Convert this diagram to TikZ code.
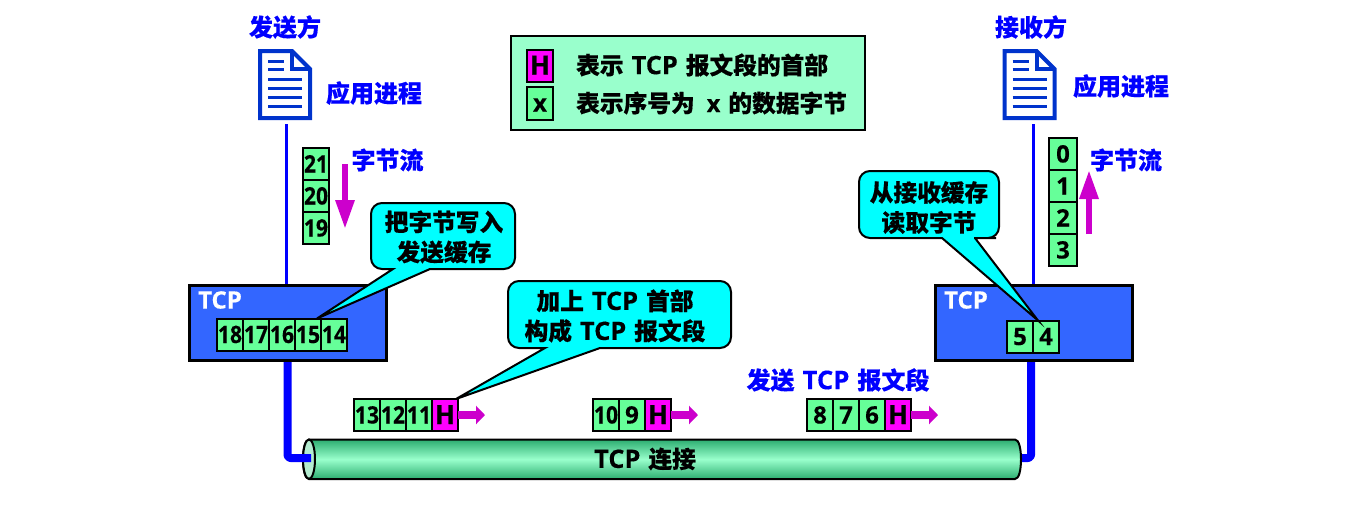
\documentclass[tikz,border=0pt]{standalone}
\usepackage{fontspec}
\usepackage{graphicx}
\setmainfont{Open Sans}[BoldFont=Open Sans Bold,BoldFeatures={FakeBold=0.3}]
\newfontfamily\zhfont{Noto Sans CJK SC Bold}[FakeBold=0.4]
\usetikzlibrary{positioning,arrows.meta,calc,shapes.geometric}
\newcommand\zh[1]{{\zhfont #1}}
\newcommand\gp{\hspace{8pt}}
\newcommand\tw[1]{\makebox[0pt]{\scalebox{0.88}[1]{#1}}}
\newcommand\tcpword{\scalebox{1.07}{TCP}}
\newcommand\hword{\raisebox{-0.5pt}{\scalebox{1.1}{H}}}
\definecolor{cellgreen}{HTML}{66FF99}
\definecolor{legendgreen}{HTML}{99FFCC}
\definecolor{hpink}{HTML}{FF00FF}
\definecolor{calloutcyan}{HTML}{00FFFF}
\definecolor{tcpblue}{HTML}{3366FF}
\definecolor{flowpurple}{HTML}{CC00CC}
\definecolor{docblue}{HTML}{0033CC}
\definecolor{cabledark}{HTML}{2CAD70}
\definecolor{cableend}{HTML}{B4ECD0}
\tikzset{
 cellbox/.style={draw=black,line width=2pt,fill=cellgreen,minimum width=26pt,minimum height=32pt,inner sep=0pt,outer sep=0pt,text height=17pt,text depth=0pt,font=\fontsize{24}{24}\selectfont\bfseries},
 wcell/.style={cellbox},
 hcell/.style={cellbox,fill=hpink},
 bluelabel/.style={text=blue,inner sep=0pt,font=\fontsize{24}{28}\selectfont\bfseries},
 blacklabel/.style={text=black,inner sep=0pt,align=center,font=\fontsize{23.7}{30}\selectfont\bfseries},
 tcpbox/.style={draw=black,line width=3pt,fill=tcpblue,minimum width=197pt,minimum height=75pt,inner sep=0pt,outer sep=0pt},
 tcplabel/.style={text=white,inner sep=0pt,font=\fontsize{24}{24}\selectfont\bfseries},
 callout/.style={draw=black,line width=2pt,fill=calloutcyan,line join=miter},
 thinlink/.style={draw=blue,line width=3pt},
 thicklink/.style={draw=blue,line width=8pt,line join=round,rounded corners=3pt},
 segarrow/.style={draw=flowpurple,line width=8pt,-{Triangle[length=9pt,width=18pt]}},
 flowarrow/.style={draw=flowpurple,line width=6pt,-{Triangle[length=29pt,width=18pt]}},
 docline/.style={draw=docblue,line width=3pt},
 doc/.style={draw=docblue,line width=4pt,fill=white,line join=miter},
 docnode/.style={minimum width=50pt,minimum height=67pt,inner sep=0pt,outer sep=0pt},
}
\newcommand\docicon[1]{%
 \draw[doc] (#1.north west) -- ++(32,0) -- ++(18,18) -- ++(0,49) -- ++(-50,0) -- cycle;
 \draw[doc,fill=none] ($(#1.north west)+(32,0)$) -- ++(0,18) -- ++(18,0);
 \foreach \yy/\xx in {10/24,18/24,28/42,37/42,46/42,55/42}{
  \draw[docline] ($(#1.north west)+(8,\yy)$) -- ++(\xx-8,0);
 }
}
\begin{document}
\begin{tikzpicture}[x=1pt,y=-1pt]
\useasboundingbox (0,0) rectangle (1368,504);
% title labels
\node[bluelabel] (sender) at (285,27) {\zh{发送方}};
\node[bluelabel] (receiver) at (1031,27) {\zh{接收方}};
\node[docnode] (docL) at (285,84.5) {};
\node[docnode] (docR) at (1029.5,84.5) {};
\docicon{docL}
\docicon{docR}
\node[bluelabel] (appL) at (374,93) {\zh{应用进程}};
\node[bluelabel] (appR) at (1121,86) {\zh{应用进程}};
\node[bluelabel] (flowL) at (387.5,160) {\zh{字节流}};
\node[bluelabel] (flowR) at (1126,160) {\zh{字节流}};
% legend
\node[draw=black,line width=2pt,fill=legendgreen,minimum width=354pt,minimum height=94pt,inner sep=0pt] (legend) at (688,83) {};
\node[hcell,minimum height=32pt] (legH) at (540,65.5) {\hword};
\node[wcell,minimum height=33pt] (legX) at (540,103) {x};
\node[blacklabel,anchor=west] (legT1) at (576,65) {\zh{表示}\gp\tcpword\gp\zh{报文段的首部}};
\node[blacklabel,anchor=west] (legT2) at (576,103) {\zh{表示序号为}\hspace{12pt}x\hspace{8pt}\zh{的数据字节}};
% byte stream stacks
\node[wcell] (c21) at (316,164) {\tw{21}};
\node[wcell,below=0pt of c21] (c20) {\tw{20}};
\node[wcell,below=0pt of c20] (c19) {\tw{19}};
\node[wcell,minimum width=28pt] (c0) at (1063,154) {0};
\node[wcell,minimum width=28pt,below=0pt of c0] (c1) {1};
\node[wcell,minimum width=28pt,below=0pt of c1] (c2) {2};
\node[wcell,minimum width=28pt,below=0pt of c2] (c3) {3};
% flow arrows
\coordinate (flowLa) at (345,164);
\coordinate (flowLb) at (345,229);
\coordinate (flowRa) at (1089,234);
\coordinate (flowRb) at (1089,170);
\draw[flowarrow] (flowLa) -- (flowLb);
\draw[flowarrow] (flowRa) -- (flowRb);
% thin links
\coordinate (linkLtop) at (286.5,124);
\coordinate (linkRtop) at (1033,124);
\coordinate (linkLbot) at (286.5,290);
\coordinate (linkRbot) at (1033,290);
\draw[thinlink] (linkLtop) -- (linkLbot);
\draw[thinlink] (linkRtop) -- (linkRbot);
% right thick link, behind the cable
\coordinate (thickRa) at (1031,361);
\coordinate (thickRb) at (1031,458);
\coordinate (thickRc) at (1016,458);
\draw[thicklink] (thickRa) -- (thickRb) -- (thickRc);
% cable
\coordinate (cabA) at (309,439.5);
\coordinate (cabB) at (1015,439.5);
\coordinate (cabC) at (1015,479);
\coordinate (cabD) at (309,479);
\draw[black,line width=2pt,top color=cabledark,bottom color=cabledark,middle color=legendgreen]
 (cabA) -- (cabB) .. controls (1019,439.5) and (1021,449) .. (1021,459) .. controls (1021,470) and (1019,479) .. (cabC) -- (cabD) .. controls (305,479) and (303,470) .. (303,459) .. controls (303,449) and (305,439.5) .. (cabA) -- cycle;
\node[draw=black,line width=2pt,fill=cableend,ellipse,minimum width=12pt,minimum height=39.5pt,inner sep=0pt] (cabEnd) at (309,459.2) {};
\node[blacklabel] (cabLabel) at (645,459) {\tcpword\gp\zh{连接}};
% left thick link
\coordinate (thickLa) at (287.5,361);
\coordinate (thickLb) at (287.5,458);
\coordinate (thickLc) at (311,458);
\draw[thicklink] (thickLa) -- (thickLb) -- (thickLc);
% TCP boxes
\node[tcpbox] (tcpL) at (287.5,323) {};
\node[tcpbox] (tcpR) at (1033.5,323) {};
\node[tcplabel] (tcpLl) at (220,300) {TCP};
\node[tcplabel] (tcpRl) at (966,300) {TCP};
% buffers
\node[wcell] (c18) at (230,334.5) {\tw{18}};
\node[wcell,right=0pt of c18] (c17) {\tw{17}};
\node[wcell,right=0pt of c17] (c16) {\tw{16}};
\node[wcell,right=0pt of c16] (c15) {\tw{15}};
\node[wcell,right=0pt of c15] (c14) {\tw{14}};
\node[wcell] (c5) at (1020,336.5) {5};
\node[wcell,right=0pt of c5] (c4) {4};
% segments
\node[wcell] (c13) at (367,415) {\tw{13}};
\node[wcell,right=0pt of c13] (c12) {\tw{12}};
\node[wcell,right=0pt of c12] (c11) {\tw{11}};
\node[hcell,right=0pt of c11] (h1) {\hword};
\node[wcell] (c10) at (606,415) {\tw{10}};
\node[wcell,right=0pt of c10] (c9) {9};
\node[hcell,right=0pt of c9] (h2) {\hword};
\node[wcell] (c8) at (820,415) {8};
\node[wcell,right=0pt of c8] (c7) {7};
\node[wcell,right=0pt of c7] (c6) {6};
\node[hcell,right=0pt of c6] (h3) {\hword};
\draw[segarrow] (h1.east) -- ++(27,0);
\draw[segarrow] (h2.east) -- ++(27,0);
\draw[segarrow] (h3.east) -- ++(27,0);
\node[bluelabel] (sendSeg) at (838,380) {\zh{发送}\gp\tcpword\gp\zh{报文段}};
% callouts
\draw[callout,rounded corners=11pt] (371,203) -- (515,203) -- (515,269) -- (440,269) [sharp corners] -- (430,269) -- ($(c15.north east)+(-4,0)$) -- (393,269) -- (385,269) [rounded corners=11pt] -- (371,269) -- cycle;
\node[blacklabel] (call1) at (444,237) {\zh{把字节写入}\\\zh{发送缓存}};
\draw[callout,rounded corners=11pt] (508,281) -- (731,281) -- (731,348) -- (610,348) [sharp corners] -- (600,348) -- ($(h1.north east)+(-2,0)$) -- (545,348) -- (535,348) [rounded corners=11pt] -- (508,348) -- cycle;
\node[blacklabel] (call2) at (615,316) {\zh{加上}\gp\tcpword\gp\zh{首部}\\\zh{构成}\gp\tcpword\gp\zh{报文段}};
\draw[callout,rounded corners=11pt] (859,171) -- (999,171) -- (999,238) -- (985,238) [sharp corners] -- (975,238) -- ($(c4.north west)+(5,0)$) -- (942,238) -- (932,238) [rounded corners=11pt] -- (859,238) -- cycle;
\node[blacklabel] (call3) at (929,207.5) {\zh{从接收缓存}\\\zh{读取字节}};
\end{tikzpicture}
\end{document}
